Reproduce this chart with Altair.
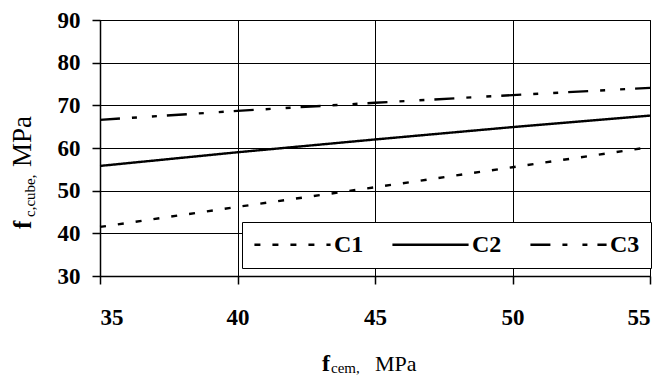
import altair as alt
import pandas as pd

# ---- data ----
f_cem = [35, 40, 45, 50, 55]
c1 = [41.5, 46.2, 50.8, 55.5, 60.2]
c2 = [55.8, 59.0, 62.0, 64.9, 67.6]
c3 = [66.6, 68.7, 70.6, 72.4, 74.1]
series_names = ["C1", "C2", "C3"]
x_ticks = [35, 40, 45, 50, 55]
y_ticks = [30, 40, 50, 60, 70, 80, 90]

rows = []
for name, vals in zip(series_names, [c1, c2, c3]):
    for x, y in zip(f_cem, vals):
        rows.append({"f_cem": x, "f_cube": y, "series": name})
df = pd.DataFrame(rows)

SERIF = "Liberation Serif"

lines = alt.Chart(df).mark_line(color="black", strokeWidth=2.4).encode(
    x=alt.X("f_cem:Q", scale=alt.Scale(domain=[35, 55], nice=False, zero=False),
            axis=alt.Axis(values=x_ticks, title=None, labelPadding=22,
                          labelFont=SERIF, labelFontWeight="bold")),
    y=alt.Y("f_cube:Q", scale=alt.Scale(domain=[30, 90], nice=False, zero=False),
            axis=alt.Axis(values=y_ticks, title=None, labelPadding=12,
                          labelFont=SERIF, labelFontWeight="bold")),
    strokeDash=alt.StrokeDash(
        "series:N",
        scale=alt.Scale(domain=series_names,
                        range=[[6, 12], [1, 0], [20, 12, 5, 15, 5, 10]]),
        legend=alt.Legend(
            title=None, orient="none", legendX=142, legendY=202,
            direction="horizontal", columns=3, symbolType="stroke",
            symbolSize=5800, symbolStrokeWidth=2.4, symbolStrokeColor="black",
            clipHeight=23,
            labelFont=SERIF, labelFontWeight="bold", labelFontSize=24,
            labelColor="black", labelOffset=2, columnPadding=27,
            strokeColor="black", fillColor="white", padding=11,
        ),
    ),
    detail="series:N",
)

one = alt.Data(values=[{"a": 1}])

def label(text, x, y, size, bold=False, angle=0):
    kw = dict(text=text, font=SERIF, fontSize=size, color="black",
              align="left", baseline="alphabetic")
    if bold:
        kw["fontWeight"] = "bold"
    if angle:
        kw["angle"] = angle
    return alt.Chart(one).mark_text(**kw).encode(x=alt.value(x), y=alt.value(y))

titles = [
    # y title: f_{c,cube}, MPa (rotated)
    label("f", -69, 209, 25, bold=True, angle=270),
    label("c,cube,", -65, 197, 15, angle=270),
    label("MPa", -69, 147, 27, angle=270),
    # x title: f_{cem}, MPa
    label("f", 222, 351, 24, bold=True),
    label("cem,", 231, 353, 15),
    label("MPa", 275, 351, 22),
]

chart = alt.layer(lines, *titles).properties(
    width=550, height=256,
    autosize=alt.AutoSizeParams(type="none"),
    padding={"left": 92, "top": 12, "right": 5, "bottom": 100},
).configure(font=SERIF).configure_view(stroke="black", strokeWidth=1).configure_axis(
    labelFont=SERIF, labelFontWeight="bold", labelFontSize=23, labelColor="black",
    grid=True, gridColor="black", gridWidth=1, gridOpacity=1,
    domainColor="black", domainWidth=1.5, tickColor="black", tickSize=8,
    tickWidth=1.5,
)

chart.save("out.html", embed_options={"renderer": "svg", "actions": False})
